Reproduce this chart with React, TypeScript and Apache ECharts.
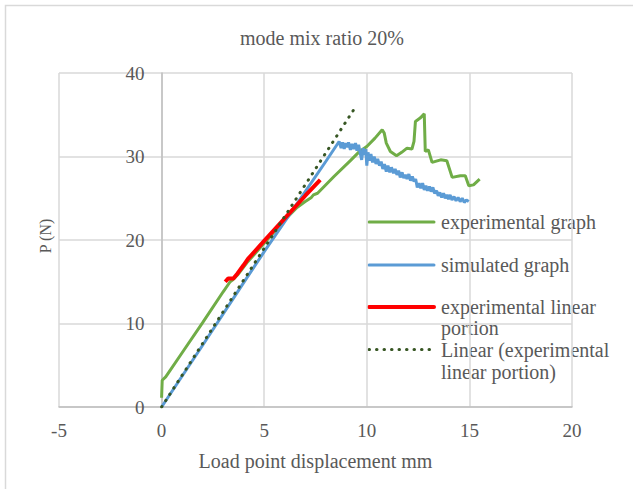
import React, { useEffect, useRef } from "react";
import * as echarts from "echarts";

const chartTitle = "mode mix ratio 20%";
const xAxisTitle = "Load point displacement mm";
const yAxisTitle = "P (N)";

const seriesNames = [
  "experimental graph",
  "simulated graph",
  "experimental linear portion",
  "Linear (experimental linear portion)",
];
const legendLabels = [
  "experimental graph",
  "simulated graph",
  "experimental linear\nportion",
  "Linear (experimental\nlinear portion)",
];

const experimental: number[][] = [
  [0, 1.1], [0.03, 3.2], [0.2, 3.6], [1.0, 6.5], [2.0, 10.1], [3.0, 13.8], [3.34, 15.0],
  [3.5, 15.3], [3.7, 15.8], [4.2, 17.4], [5.0, 19.6], [6.0, 22.4], [6.6, 23.9], [7.0, 24.6],
  [7.3, 25.1], [7.4, 25.4], [7.6, 25.6], [8.4, 27.6], [9.2, 29.5], [9.6, 30.5], [10.0, 31.2],
  [10.4, 32.2], [10.75, 33.2], [10.85, 32.8], [10.95, 31.6], [11.15, 30.6], [11.45, 30.1],
  [11.7, 30.5], [11.96, 31.0], [12.2, 30.9], [12.3, 31.8], [12.37, 34.2], [12.6, 34.6],
  [12.8, 35.1], [12.85, 30.6], [13.0, 30.8], [13.18, 29.3], [13.6, 29.6], [13.9, 29.5],
  [14.16, 27.5], [14.56, 27.7], [14.8, 27.7], [14.97, 26.5], [15.2, 26.6], [15.5, 27.3],
];

const simulated: number[][] = [
  [0, 0], [2, 7.4], [4, 14.9], [5, 18.6], [6, 22.2], [7, 25.8], [8, 29.4], [8.65, 31.8],
  [8.75, 31.0], [8.82, 31.7], [8.9, 30.9], [8.97, 31.6], [9.05, 31.1], [9.11, 31.7], [9.2, 30.8],
  [9.28, 31.5], [9.36, 30.9], [9.45, 31.6], [9.52, 30.7], [9.6, 31.4], [9.68, 30.4], [9.75, 29.6],
  [9.82, 31.0], [9.9, 30.2], [9.95, 30.9], [10.0, 28.9], [10.06, 30.5], [10.13, 29.5],
  [10.2, 30.3], [10.28, 29.3], [10.36, 30.0], [10.45, 29.1], [10.53, 29.7], [10.62, 28.9],
  [10.7, 29.4], [10.78, 28.5], [10.86, 29.1], [10.95, 28.2], [11.03, 28.9], [11.12, 28.1],
  [11.2, 28.7], [11.3, 28.0], [11.38, 28.5], [11.47, 27.8], [11.55, 28.3], [11.63, 27.5],
  [11.72, 28.1], [11.8, 27.4], [11.88, 27.8], [11.96, 27.3], [12.05, 27.9], [12.13, 27.1],
  [12.22, 27.6], [12.3, 27.0], [12.38, 27.3], [12.46, 26.3], [12.55, 26.8], [12.63, 26.2],
  [12.72, 26.8], [12.8, 26.0], [12.88, 26.5], [12.96, 25.9], [13.05, 26.4], [13.13, 25.8],
  [13.22, 26.3], [13.3, 25.6], [13.4, 25.9], [13.48, 25.3], [13.56, 25.7], [13.65, 25.1],
  [13.74, 25.6], [13.82, 25.0], [13.9, 25.4], [13.98, 24.9], [14.06, 25.4], [14.15, 24.8],
  [14.25, 25.2], [14.35, 24.7], [14.45, 25.1], [14.55, 24.6], [14.65, 25.0], [14.75, 24.5],
  [14.85, 24.8], [14.97, 24.6],
];

const linearPortion: number[][] = [
  [3.1, 15.0], [3.25, 15.4], [3.5, 15.4], [3.7, 16.0], [4.0, 17.0], [4.2, 17.7],
  [5.0, 19.9], [6.0, 22.6], [7.0, 25.3], [7.73, 27.2],
];

const trendline: number[][] = [
  [0, 0], [9.52, 36.2],
];

const xTicks = { min: -5, max: 20, interval: 5 };
const yTicks = { min: 0, max: 40, interval: 10 };

const colors = ["#70AD47", "#5B9BD5", "#FF0000", "#375623"];

const FONT = "'Liberation Serif', 'Times New Roman', serif";
const TEXT = "#595959";

export default function App() {
  const ref = useRef<HTMLDivElement>(null);
  useEffect(() => {
    if (!ref.current) return;
    const chart = echarts.init(ref.current, undefined, { renderer: "svg" });
    const legendY = [222, 265, 307, 349.5];
    const legendLH = [23, 23, 21, 22];
    const legendGraphics: any[] = [];
    legendLabels.forEach((lab, i) => {
      legendGraphics.push({
        type: "line",
        shape: { x1: 369, y1: legendY[i], x2: 434, y2: legendY[i] },
        style: i === 3
          ? { stroke: colors[i], lineWidth: 3, lineDash: [0.5, 7], lineCap: "round" }
          : { stroke: colors[i], lineWidth: i === 2 ? 4 : 3, lineCap: "round" },
      });
      legendGraphics.push({
        type: "text",
        x: 441,
        y: legendY[i] - legendLH[i] / 2,
        style: {
          text: lab,
          fill: TEXT,
          font: `20px ${FONT}`,
          lineHeight: legendLH[i],
          textVerticalAlign: "top",
          textAlign: "left",
        },
      });
    });
    const gridLeft = 59;
    const gridRight = 61;
    const plotW = 633 - gridLeft - gridRight;
    const zeroOffset = (plotW * (0 - xTicks.min)) / (xTicks.max - xTicks.min);
    chart.setOption({
      animation: false,
      backgroundColor: "#ffffff",
      title: {
        text: chartTitle,
        left: 240,
        top: 28,
        padding: 0,
        textStyle: { fontFamily: FONT, fontSize: 20, fontWeight: "normal", color: TEXT },
      },
      grid: { left: gridLeft, right: gridRight, top: 73, bottom: 82, containLabel: false },
      xAxis: {
        type: "value",
        min: xTicks.min,
        max: xTicks.max,
        interval: xTicks.interval,
        name: xAxisTitle,
        nameLocation: "middle",
        nameGap: 44,
        nameTextStyle: { fontFamily: FONT, fontSize: 20, color: TEXT },
        axisLine: { show: true, onZero: false, lineStyle: { color: "#BFBFBF", width: 1.5 } },
        axisTick: { show: false },
        axisLabel: { fontFamily: FONT, fontSize: 19, color: TEXT, margin: 14 },
        splitLine: { show: true, lineStyle: { color: "#D9D9D9", width: 1.5 } },
      },
      yAxis: {
        type: "value",
        min: yTicks.min,
        max: yTicks.max,
        interval: yTicks.interval,
        offset: -zeroOffset,
        axisLine: { show: true, onZero: false, lineStyle: { color: "#BFBFBF", width: 1.5 } },
        axisTick: { show: false },
        axisLabel: { fontFamily: FONT, fontSize: 19, color: TEXT, margin: 17 },
        splitLine: { show: true, lineStyle: { color: "#D9D9D9", width: 1.5 } },
      },
      graphic: [
        {
          type: "rect",
          shape: { x: 5.5, y: 5.5, width: 640, height: 500 },
          style: { fill: "none", stroke: "#D9D9D9", lineWidth: 1.5 },
          silent: true,
        },
        {
          type: "text",
          x: 45,
          y: 236,
          rotation: Math.PI / 2,
          style: {
            text: yAxisTitle,
            fill: TEXT,
            font: `16px ${FONT}`,
            textAlign: "center",
            textVerticalAlign: "middle",
          },
        },
        ...legendGraphics,
      ],
      series: [
        {
          name: seriesNames[0], type: "line", data: experimental, showSymbol: false,
          lineStyle: { color: colors[0], width: 3 }, z: 2,
        },
        {
          name: seriesNames[1], type: "line", data: simulated, showSymbol: false,
          lineStyle: { color: colors[1], width: 3 }, z: 3,
        },
        {
          name: seriesNames[2], type: "line", data: linearPortion, showSymbol: false,
          lineStyle: { color: colors[2], width: 4 }, z: 4,
        },
        {
          name: seriesNames[3], type: "line", data: trendline, showSymbol: false,
          lineStyle: { color: colors[3], width: 3, type: [0.5, 7], cap: "round" }, z: 5,
        },
      ],
    });
    return () => chart.dispose();
  }, []);
  return (
    <div
      ref={ref}
      style={{ position: "fixed", left: 0, top: 0, width: 633, height: 489 }}
    />
  );
}
